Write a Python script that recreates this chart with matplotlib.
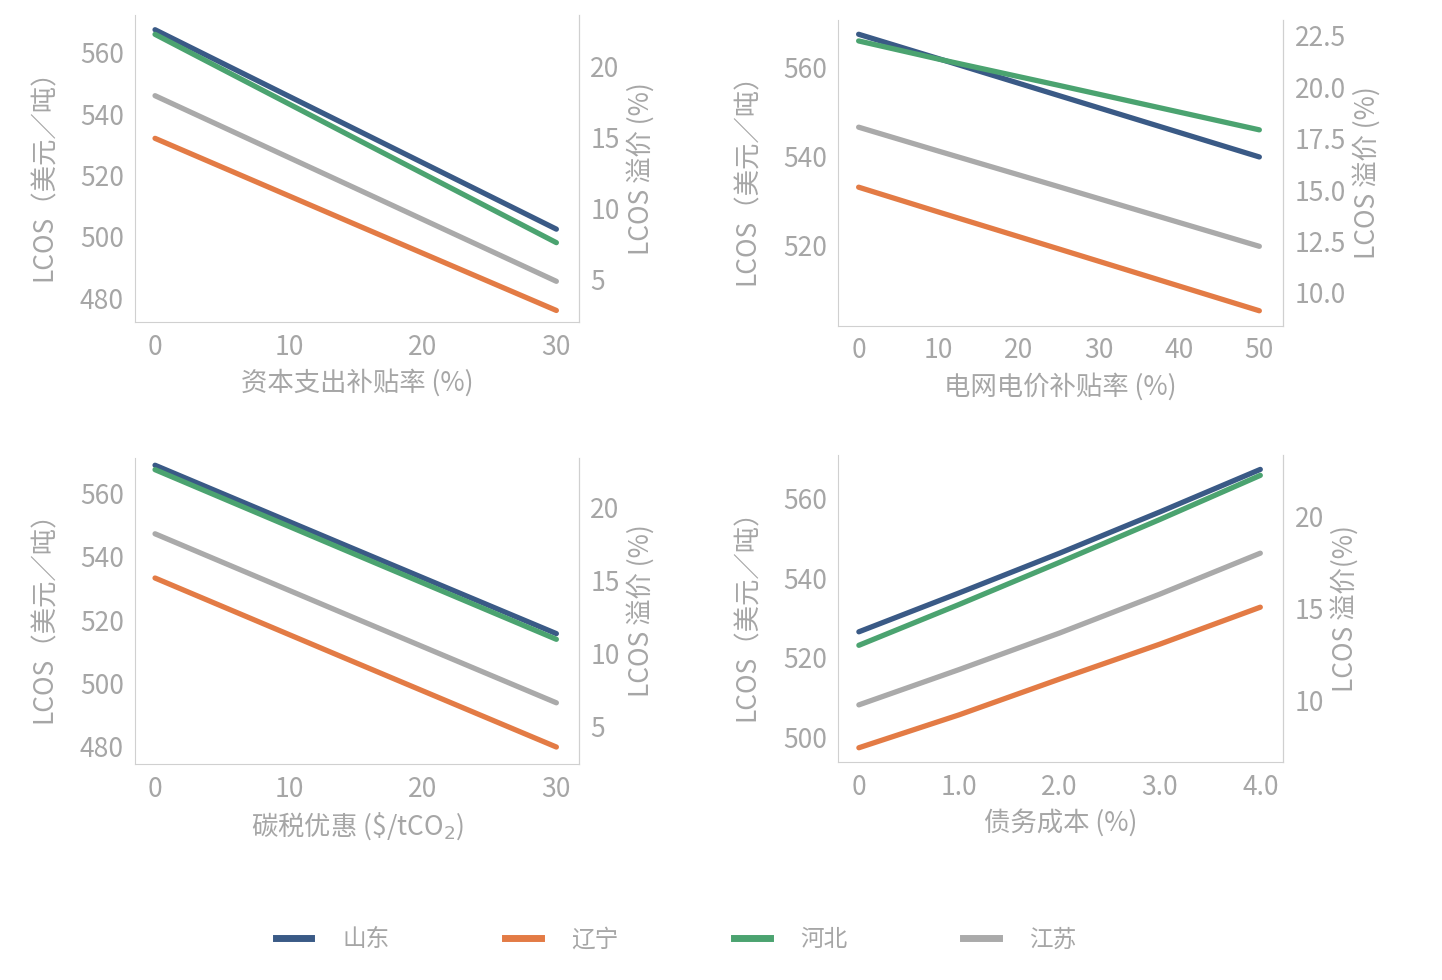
import matplotlib
matplotlib.use('Agg')
import matplotlib.pyplot as plt

plt.rcParams['font.family'] = ['Noto Sans CJK SC', 'DejaVu Sans']

# regions and colours (same order in every series list below)
regions = ['山东', '辽宁', '河北', '江苏']
colors = ['#3a5a86', '#e37b45', '#4ba370', '#aaaaaa']

# LCOS premium is measured against this reference LCOS (USD/t)
base_lcos = 463.0

# panel 1: capex subsidy
capex_x = [0, 15, 30]
capex_lcos = [
    [567.5, 535.0, 502.5],
    [532.1, 504.0, 476.0],
    [566.0, 532.0, 498.1],
    [546.0, 515.8, 485.5],
]

# panel 2: grid power price subsidy
grid_x = [0, 10, 25, 50]
grid_lcos = [
    [567.5, 562.0, 553.7, 539.9],
    [533.1, 527.5, 519.2, 505.3],
    [566.0, 561.9, 556.0, 546.0],
    [546.6, 541.2, 533.2, 519.8],
]

# panel 3: carbon tax relief
carbon_x = [0, 15, 30]
carbon_lcos = [
    [569.0, 542.3, 515.7],
    [533.3, 506.5, 479.8],
    [567.6, 540.7, 513.9],
    [547.3, 520.5, 493.8],
]

# panel 4: cost of debt
debt_x = [0, 1, 2, 3, 4]
debt_lcos = [
    [526.5, 536.3, 546.3, 556.7, 567.4],
    [497.3, 505.6, 514.6, 523.4, 532.7],
    [523.1, 533.4, 544.0, 554.8, 565.9],
    [508.1, 517.0, 526.2, 536.0, 546.3],
]

GRAY = '#a6a6a6'
SPINE = '#d0d0d0'
FS = 19


def premium(v):
    return (v / base_lcos - 1.0) * 100.0


def draw_panel(fig, rect, x, series, xlim, ylim, xticks, xticklabels, yticks,
               rticks, rfmt, xlabel, ylabel, rlabel):
    ax = fig.add_axes(rect)
    for vals, c in zip(series, colors):
        ax.plot(x, vals, color=c, lw=3.8, solid_capstyle='round')
    ax.set_xlim(xlim)
    ax.set_ylim(ylim)
    ax.set_xticks(xticks)
    ax.set_xticklabels(xticklabels)
    ax.set_yticks(yticks)
    ax.tick_params(length=0, labelsize=FS, labelcolor=GRAY, pad=8)
    ax.spines['top'].set_visible(False)
    for s in ['left', 'bottom', 'right']:
        ax.spines[s].set_color(SPINE)
    ax.set_xlabel(xlabel, fontsize=FS, color=GRAY, labelpad=6)
    ax.set_ylabel(ylabel, fontsize=FS, color=GRAY, labelpad=16)

    ax2 = ax.twinx()
    ax2.set_ylim(premium(ylim[0]), premium(ylim[1]))
    ax2.set_yticks(rticks)
    ax2.set_yticklabels([rfmt % t for t in rticks])
    ax2.tick_params(length=0, labelsize=FS, labelcolor=GRAY, pad=8)
    ax2.spines['top'].set_visible(False)
    ax2.spines['left'].set_visible(False)
    ax2.spines['bottom'].set_visible(False)
    ax2.spines['right'].set_color(SPINE)
    ax2.set_ylabel(rlabel, fontsize=FS, color=GRAY, labelpad=5)
    return ax


fig = plt.figure(figsize=(14.42, 9.8), dpi=100)

draw_panel(fig, [0.0936, 0.671, 0.308, 0.314], capex_x, capex_lcos,
           (-1.5, 31.7), (472.1, 572.4), [0, 10, 20, 30], ['0', '10', '20', '30'],
           [480, 500, 520, 540, 560], [5, 10, 15, 20], '%d',
           '资本支出补贴率 (%)', 'LCOS（美元／吨）', 'LCOS 溢价 (%)')

draw_panel(fig, [0.581, 0.667, 0.309, 0.313], grid_x, grid_lcos,
           (-2.6, 53.0), (501.8, 570.8), [0, 10, 20, 30, 40, 50],
           ['0', '10', '20', '30', '40', '50'],
           [520, 540, 560], [10.0, 12.5, 15.0, 17.5, 20.0, 22.5], '%.1f',
           '电网电价补贴率 (%)', 'LCOS（美元／吨）', 'LCOS 溢价 (%)')

draw_panel(fig, [0.0936, 0.220, 0.308, 0.313], carbon_x, carbon_lcos,
           (-1.5, 31.7), (474.3, 571.4), [0, 10, 20, 30], ['0', '10', '20', '30'],
           [480, 500, 520, 540, 560], [5, 10, 15, 20], '%d',
           r'碳税优惠 (\$/tCO$_2$)', 'LCOS（美元／吨）', 'LCOS 溢价 (%)')

draw_panel(fig, [0.581, 0.222, 0.309, 0.314], debt_x, debt_lcos,
           (-0.21, 4.23), (493.6, 571.1), [0, 1, 2, 3, 4],
           ['0', '1.0', '2.0', '3.0', '4.0'],
           [500, 520, 540, 560], [10, 15, 20], '%d',
           '债务成本 (%)', 'LCOS（美元／吨）', 'LCOS 溢价(%)')

handles = [plt.Line2D([], [], color=c, lw=5) for c in colors]
leg = fig.legend(handles, regions, loc='center', bbox_to_anchor=(0.469, 0.041),
                 ncol=4, frameon=False, fontsize=17, handlelength=1.5,
                 handletextpad=1.3, columnspacing=4.9)
for t in leg.get_texts():
    t.set_color(GRAY)

fig.savefig('out.png', dpi=100)
